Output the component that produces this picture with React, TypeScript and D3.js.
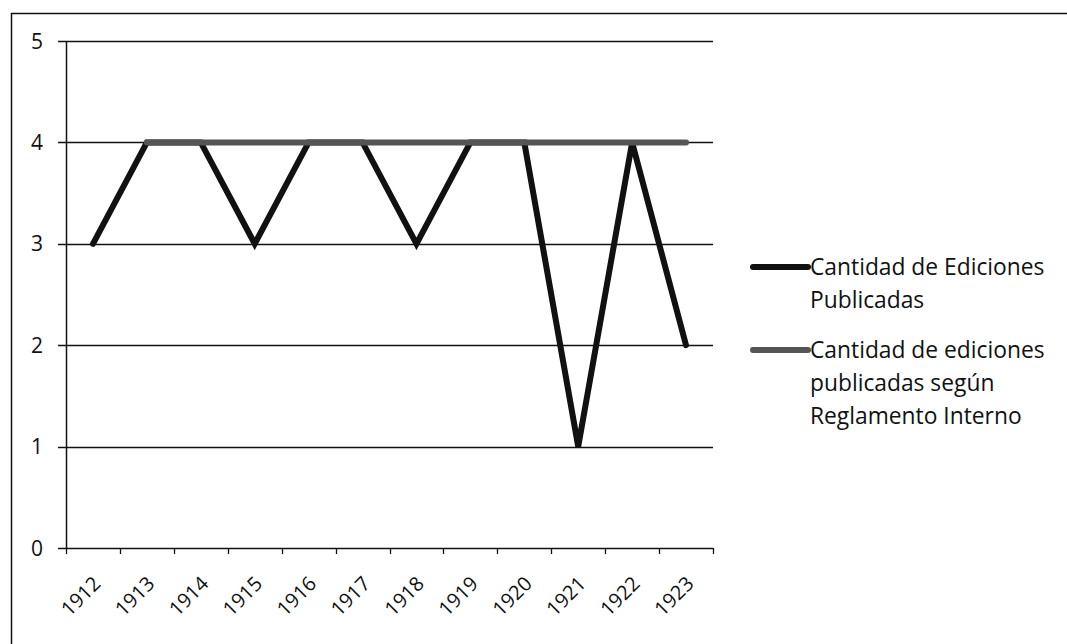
import React, { useEffect, useRef } from 'react'
import * as d3 from 'd3'

const years = ['1912', '1913', '1914', '1915', '1916', '1917', '1918', '1919', '1920', '1921', '1922', '1923']
const publicadas = [3, 4, 4, 3, 4, 4, 3, 4, 4, 1, 4, 2]
const reglamento = [null, 4, 4, 4, 4, 4, 4, 4, 4, 4, 4, 4]
const yTicks = [0, 1, 2, 3, 4, 5]
const legendItems = [
  { lines: ['Cantidad de Ediciones', 'Publicadas'], color: '#111' },
  { lines: ['Cantidad de ediciones', 'publicadas según', 'Reglamento Interno'], color: '#555' },
]

const W = 1067
const H = 644
const font = "'Open Sans', 'DejaVu Sans', sans-serif"

const App = () => {
  const ref = useRef<SVGSVGElement>(null)

  useEffect(() => {
    const root = d3.select(ref.current)
    root.selectAll('*').remove()

    const margin = { top: 41, left: 66, right: 354, bottom: 96 }
    const width = W - margin.left - margin.right
    const height = H - margin.top - margin.bottom

    // frame (top and left edges visible)
    root
      .append('path')
      .attr('d', `M11.5,${H} L11.5,13.5 L${W},13.5`)
      .attr('fill', 'none')
      .attr('stroke', '#111')
      .attr('stroke-width', 1.5)

    const svg = root.append('g').attr('transform', `translate(${margin.left}, ${margin.top})`)

    const x = d3.scaleBand().domain(years).range([0, width])
    const y = d3.scaleLinear().domain([0, 5]).range([height, 0])

    // gridlines + y ticks
    svg
      .append('g')
      .selectAll('line')
      .data(yTicks)
      .enter()
      .append('line')
      .attr('x1', -8)
      .attr('x2', width)
      .attr('y1', d => Math.round(y(d)) + 0.5)
      .attr('y2', d => Math.round(y(d)) + 0.5)
      .attr('stroke', '#111')
      .attr('stroke-width', 1.3)

    svg
      .append('g')
      .selectAll('text')
      .data(yTicks)
      .enter()
      .append('text')
      .text(d => d)
      .attr('x', -23)
      .attr('y', d => y(d))
      .attr('dy', '0.36em')
      .attr('text-anchor', 'end')
      .attr('font-family', font)
      .attr('font-size', '21px')
      .attr('fill', '#111')

    // y axis line
    svg
      .append('line')
      .attr('x1', 0.5)
      .attr('x2', 0.5)
      .attr('y1', 0)
      .attr('y2', height)
      .attr('stroke', '#111')
      .attr('stroke-width', 1.5)

    // x ticks at band edges
    const edges = years.map(d => x(d) as number).concat([width])
    svg
      .append('g')
      .selectAll('line')
      .data(edges)
      .enter()
      .append('line')
      .attr('x1', d => Math.round(d) + 0.5)
      .attr('x2', d => Math.round(d) + 0.5)
      .attr('y1', height)
      .attr('y2', height + 6)
      .attr('stroke', '#111')
      .attr('stroke-width', 1.3)

    // x labels
    svg
      .append('g')
      .selectAll('text')
      .data(years)
      .enter()
      .append('text')
      .text(d => d)
      .attr('text-anchor', 'end')
      .attr('font-family', font)
      .attr('font-size', '20px')
      .attr('fill', '#111')
      .attr('transform', d => `translate(${(x(d) as number) + x.bandwidth() / 2 + 9}, ${height + 37}) rotate(-45)`)

    const cx = (i: number) => (x(years[i]) as number) + x.bandwidth() / 2

    const line = d3
      .line<number | null>()
      .defined(d => d !== null)
      .x((_, i) => cx(i))
      .y(d => y(d as number))

    svg
      .append('path')
      .datum(publicadas)
      .attr('d', line)
      .attr('fill', 'none')
      .attr('stroke', '#111')
      .attr('stroke-width', 6)
      .attr('stroke-linejoin', 'miter')
      .attr('stroke-linecap', 'round')

    svg
      .append('path')
      .datum(reglamento)
      .attr('d', line)
      .attr('fill', 'none')
      .attr('stroke', '#555')
      .attr('stroke-width', 6)
      .attr('stroke-linecap', 'round')

    // legend
    const legend = root.append('g')
    const starts = [267, 350]
    legendItems.forEach((item, k) => {
      const g = legend.append('g').attr('transform', `translate(0, ${starts[k]})`)
      g.append('line')
        .attr('x1', 753)
        .attr('x2', 808)
        .attr('y1', 0)
        .attr('y2', 0)
        .attr('stroke', item.color)
        .attr('stroke-width', 6)
        .attr('stroke-linecap', 'round')
      item.lines.forEach((t, j) => {
        g.append('text')
          .text(t)
          .attr('x', 810)
          .attr('y', j * 33)
          .attr('dy', '0.36em')
          .attr('font-family', font)
          .attr('font-size', '22.8px')
          .attr('fill', '#111')
      })
    })
  }, [])

  return (
    <svg width={W} height={H} ref={ref} style={{ position: 'absolute', left: 0, top: 0, background: '#fff' }} />
  )
}

export default App
